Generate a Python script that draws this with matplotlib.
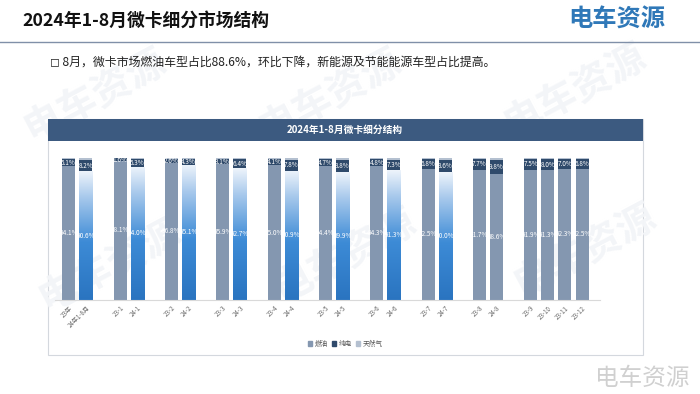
import matplotlib
matplotlib.use("Agg")
import matplotlib.pyplot as plt
import numpy as np
from matplotlib.colors import LinearSegmentedColormap
from matplotlib.patches import Rectangle

plt.rcParams["font.family"] = ["Noto Sans CJK SC", "DejaVu Sans"]

# data (percent)
categories = ["23年", "24年1-8月", "23-1", "24-1", "23-2", "24-2", "23-3", "24-3",
              "23-4", "24-4", "23-5", "24-5", "23-6", "24-6", "23-7", "24-7",
              "23-8", "24-8", "23-9", "23-10", "23-11", "23-12"]
fuel = [94.1, 90.6, 98.1, 94.0, 96.8, 95.1, 95.9, 92.7, 95.0, 90.9, 94.4, 89.9,
        94.3, 91.3, 92.5, 90.0, 91.7, 88.6, 91.9, 91.3, 92.3, 92.5]
electric = [5.1, 8.2, 1.6, 5.3, 2.6, 4.3, 3.1, 6.4, 4.1, 7.8, 4.7, 8.8,
            4.8, 7.3, 6.8, 8.6, 7.7, 9.8, 7.5, 8.0, 7.0, 6.8]
gas = [round(100 - f - e, 1) for f, e in zip(fuel, electric)]
group_sizes = [2, 2, 2, 2, 2, 2, 2, 2, 2, 4]
series_names = ["燃油", "纯电", "天然气"]

# bars drawn with the blue gradient
gradient_bars = {"24年1-8月", "24-1", "24-2", "24-3", "24-4", "24-5", "24-6", "24-7"}

GRAY = "#8497b0"
NAVY = "#2f4a6b"
LIGHT = "#b4c0d0"
HEADER = "#3c5a80"

# slot positions, one empty slot between groups
pos = []
slot = 0
for size in group_sizes:
    for _ in range(size):
        pos.append(slot)
        slot += 1
    slot += 1
pos = np.array(pos, dtype=float)

fig = plt.figure(figsize=(7.0, 3.94), dpi=100)

# background / decoration layer in pixel coords
bg = fig.add_axes([0, 0, 1, 1], zorder=0)
bg.set_xlim(0, 700)
bg.set_ylim(394, 0)
bg.axis("off")

bg.add_patch(Rectangle((48, 119), 595, 236, facecolor="white", edgecolor="#d4d8de",
                       lw=0.8, zorder=1))
for (wx, wy) in [(95, 95), (330, 95), (575, 90), (110, 265), (345, 255), (585, 250)]:
    bg.text(wx, wy, "电车资源", fontsize=28, color="#f3f5f8", rotation=28,
            ha="center", va="center", fontweight="bold", zorder=1.5)

bg.add_patch(Rectangle((48, 119), 595, 22, facecolor=HEADER, edgecolor="none", zorder=2))
bg.text(345, 130, "2024年1-8月微卡细分结构", fontsize=7, fontweight="bold",
        color="white", ha="center", va="center", zorder=3)

bg.text(22, 21, "2024年1-8月微卡细分市场结构", fontsize=12.8, fontweight="bold",
        color="#111111", ha="left", va="center", zorder=3)
bg.text(665, 20, "电车资源", fontsize=17.5, fontweight="bold", color="#2f78b8",
        ha="right", va="center", zorder=3)
bg.plot([0, 700], [42, 42], color="#8090a8", lw=1.0, zorder=3)
bg.text(50, 62, "◻ 8月，微卡市场燃油车型占比88.6%，环比下降，新能源及节能能源车型占比提高。",
        fontsize=8.6, color="#222222", ha="left", va="center", zorder=3)
bg.text(690, 378, "电车资源", fontsize=17, color="#d0d0d0", ha="right", va="center",
        zorder=3)

# chart axes
ax = fig.add_axes([55 / 700, 94 / 394, 545 / 700, 142 / 394], zorder=1)
ax.patch.set_alpha(0)
width = 0.76

f_bars = ax.bar(pos, fuel, width, color=GRAY, zorder=2)
e_bars = ax.bar(pos, electric, width, bottom=fuel, color=NAVY, zorder=2)
bottom2 = [f + e for f, e in zip(fuel, electric)]
g_bars = ax.bar(pos, gas, width, bottom=bottom2, color=LIGHT, zorder=2)

cmap = LinearSegmentedColormap.from_list(
    "blue_grad", [(0.0, "#2a74c0"), (0.45, "#3d8bd6"), (0.8, "#a8c9ec"), (1.0, "#eef4fb")])
grad = np.linspace(0, 1, 256).reshape(-1, 1)
for cat, rect in zip(categories, f_bars):
    if cat in gradient_bars:
        x0 = rect.get_x()
        w = rect.get_width()
        h = rect.get_height()
        rect.set_facecolor("none")
        im = ax.imshow(grad, cmap=cmap, extent=(x0, x0 + w, 0, h), aspect="auto",
                       origin="lower", zorder=2)
        im.set_clip_path(rect)

for x, f, e in zip(pos, fuel, electric):
    ax.text(x, f / 2, f"{f:.1f}%", fontsize=4.6, color="white", ha="center",
            va="center", zorder=4)
    ax.text(x, f + e / 2, f"{e:.1f}%", fontsize=4.6, color="white", ha="center",
            va="center", zorder=4)

ax.set_xlim(-0.8, pos[-1] + 1.05)
ax.set_ylim(0, 100)
ax.set_xticks(pos)
ax.set_xticklabels(categories, rotation=45, ha="right", rotation_mode="anchor",
                   fontsize=4.4, color="#666666")
ax.tick_params(axis="x", length=0, pad=3)
ax.set_yticks([])
for side in ["left", "right", "top"]:
    ax.spines[side].set_visible(False)
ax.spines["bottom"].set_color("#d9d9d9")
ax.spines["bottom"].set_linewidth(0.8)

handles = [Rectangle((0, 0), 1, 1, color=c) for c in (GRAY, NAVY, LIGHT)]
fig.legend(handles, series_names, loc="center", bbox_to_anchor=(345 / 700, 1 - 344 / 394),
           ncol=3, frameon=False, fontsize=4.8, handlelength=0.7, handleheight=0.7,
           handletextpad=0.3, columnspacing=0.6, labelcolor="#555555")

fig.savefig("out.png", dpi=100)
